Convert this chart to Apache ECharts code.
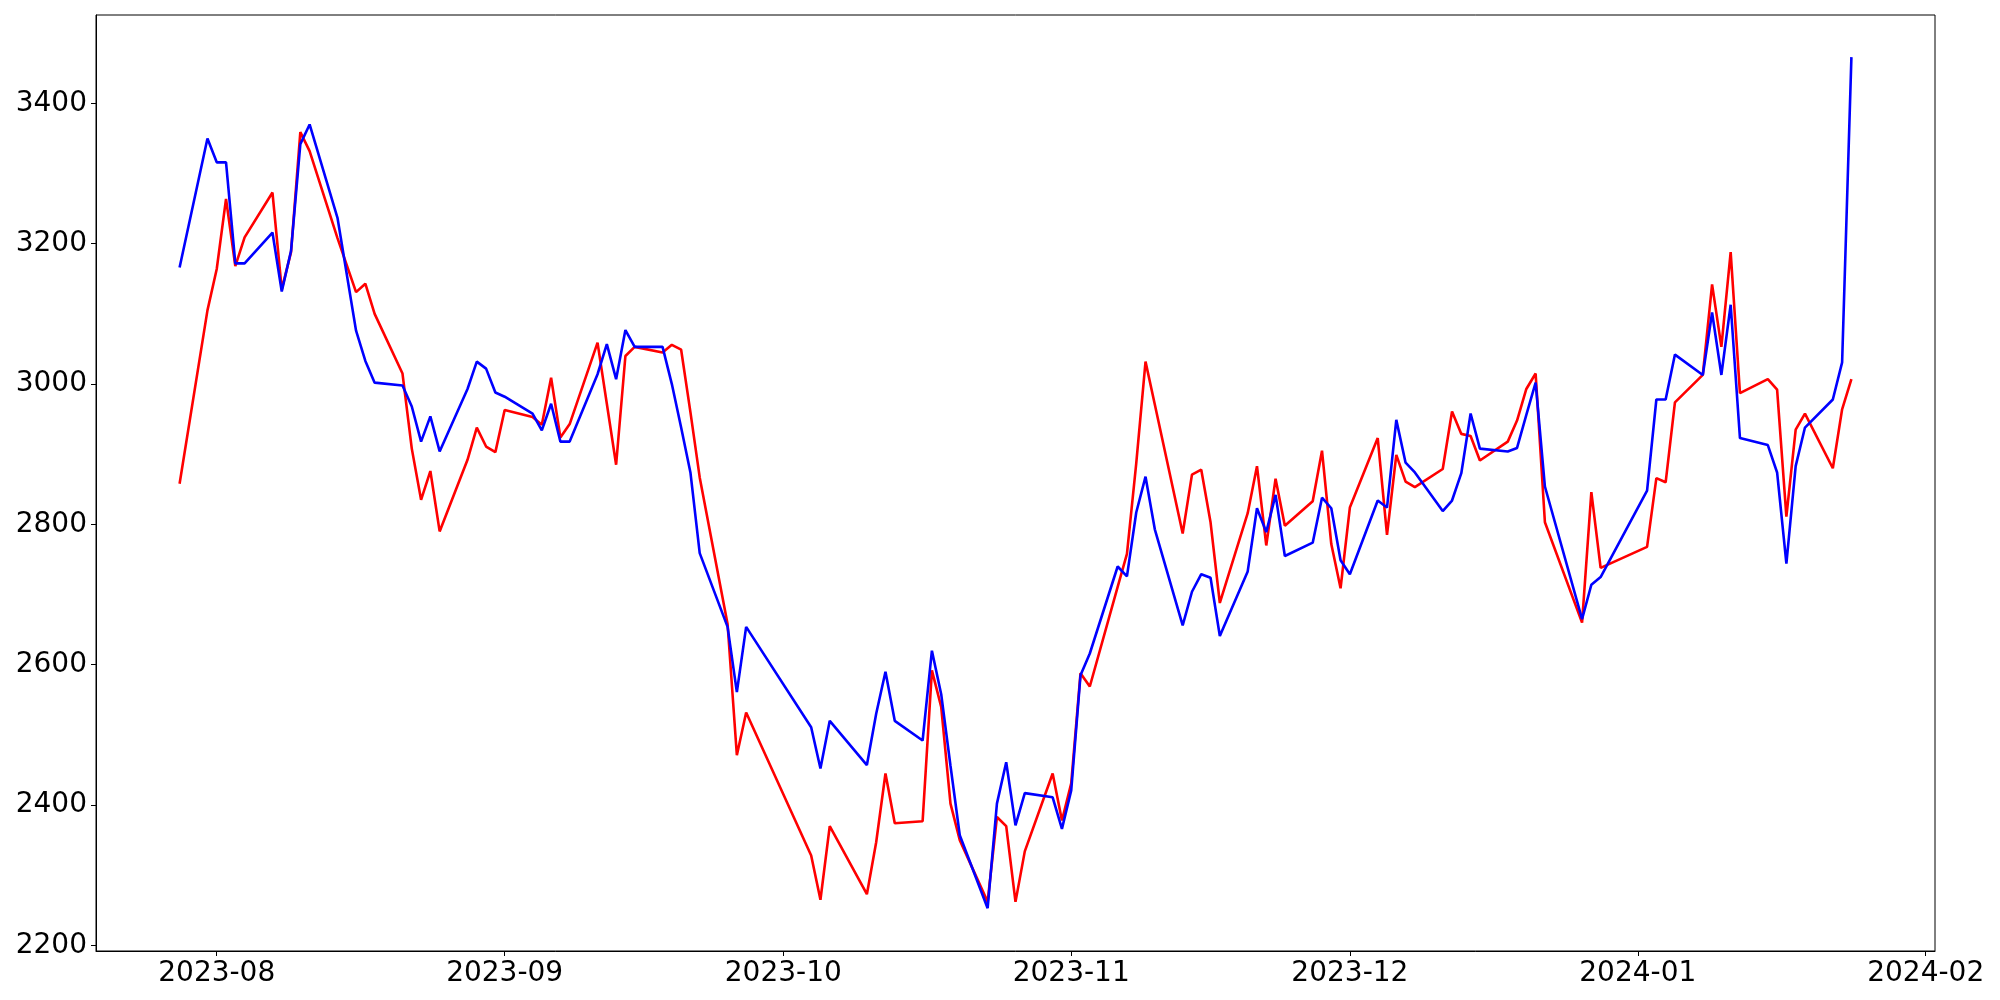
<!DOCTYPE html>
<html>
<head>
<meta charset="utf-8">
<title>chart</title>
<script src="https://cdn.jsdelivr.net/npm/echarts@6/dist/echarts.min.js"></script>
<style>
  html, body { margin: 0; padding: 0; background: #fff; }
  #main { width: 2000px; height: 1000px; }
</style>
</head>
<body>
<div id="main"></div>
<script>
// trading days (weekends and holidays missing)
const dates = [
  '2023-07-28', '2023-07-31',
  '2023-08-01', '2023-08-02', '2023-08-03', '2023-08-04', '2023-08-07', '2023-08-08', '2023-08-09', '2023-08-10',
  '2023-08-11', '2023-08-14', '2023-08-16', '2023-08-17', '2023-08-18', '2023-08-21', '2023-08-22', '2023-08-23',
  '2023-08-24', '2023-08-25', '2023-08-28', '2023-08-29', '2023-08-30', '2023-08-31',
  '2023-09-01', '2023-09-04', '2023-09-05', '2023-09-06', '2023-09-07', '2023-09-08', '2023-09-11', '2023-09-12',
  '2023-09-13', '2023-09-14', '2023-09-15', '2023-09-18', '2023-09-19', '2023-09-20', '2023-09-21', '2023-09-22',
  '2023-09-25', '2023-09-26', '2023-09-27',
  '2023-10-04', '2023-10-05', '2023-10-06', '2023-10-10', '2023-10-11', '2023-10-12', '2023-10-13', '2023-10-16',
  '2023-10-17', '2023-10-18', '2023-10-19', '2023-10-20', '2023-10-23', '2023-10-24', '2023-10-25', '2023-10-26',
  '2023-10-27', '2023-10-30', '2023-10-31',
  '2023-11-01', '2023-11-02', '2023-11-03', '2023-11-06', '2023-11-07', '2023-11-08', '2023-11-09', '2023-11-10',
  '2023-11-13', '2023-11-14', '2023-11-15', '2023-11-16', '2023-11-17', '2023-11-20', '2023-11-21', '2023-11-22',
  '2023-11-23', '2023-11-24', '2023-11-27', '2023-11-28', '2023-11-29', '2023-11-30',
  '2023-12-01', '2023-12-04', '2023-12-05', '2023-12-06', '2023-12-07', '2023-12-08', '2023-12-11', '2023-12-12',
  '2023-12-13', '2023-12-14', '2023-12-15', '2023-12-18', '2023-12-19', '2023-12-20', '2023-12-21', '2023-12-22',
  '2023-12-26', '2023-12-27', '2023-12-28',
  '2024-01-02', '2024-01-03', '2024-01-04', '2024-01-05', '2024-01-08', '2024-01-09', '2024-01-10', '2024-01-11',
  '2024-01-12', '2024-01-15', '2024-01-16', '2024-01-17', '2024-01-18', '2024-01-19', '2024-01-22', '2024-01-23',
  '2024-01-24'
]

const redValues = [
  2858, 3105,
  3164, 3264, 3168, 3209, 3273, 3135, 3188, 3359,
  3332, 3208, 3131, 3143, 3100, 3015, 2908, 2835,
  2876, 2790, 2892, 2938, 2911, 2903,
  2963, 2953, 2942, 3009, 2924, 2943, 3059, 2972,
  2885, 3040, 3053, 3045, 3056, 3049, 2960, 2867,
  2658, 2471, 2532,
  2328, 2265, 2370, 2273, 2347, 2445, 2374, 2377,
  2592, 2540, 2402, 2350, 2262, 2383, 2370, 2262,
  2334, 2445, 2378,
  2431, 2588, 2569, 2711, 2758, 2887, 3032, 2971,
  2787, 2871, 2878, 2803, 2688, 2816, 2883, 2770,
  2865, 2798, 2833, 2905, 2772, 2709,
  2824, 2923, 2785, 2899, 2861, 2853, 2879, 2961,
  2929, 2926, 2891, 2918, 2948, 2993, 3015, 2803,
  2660, 2846, 2738,
  2768, 2866, 2860, 2974, 3013, 3142, 3053, 3188,
  2987, 3007, 2992, 2811, 2935, 2958, 2880, 2964,
  3007
]

const blueValues = [
  3166, 3350,
  3316, 3316, 3172, 3172, 3216, 3132, 3190, 3342,
  3370, 3237, 3076, 3033, 3002, 2998, 2968, 2918,
  2954, 2904, 2993, 3032, 3022, 2988,
  2982, 2958, 2934, 2972, 2918, 2918, 3014, 3057,
  3007, 3077, 3053, 3053, 3000, 2938, 2874, 2759,
  2654, 2561, 2654,
  2511, 2452, 2520, 2457, 2530, 2590, 2520, 2492,
  2620, 2558, 2456, 2357, 2253, 2402, 2461, 2371,
  2417, 2411, 2366,
  2421, 2585, 2616, 2740, 2726, 2817, 2868, 2793,
  2656, 2704, 2729, 2724, 2641, 2733, 2823, 2789,
  2842, 2755, 2774, 2838, 2823, 2749,
  2729, 2834, 2824, 2949, 2888, 2874, 2819, 2834,
  2873, 2958, 2908, 2904, 2909, 2956, 3002, 2854,
  2665, 2714, 2725,
  2848, 2978, 2978, 3042, 3013, 3102, 3013, 3113,
  2923, 2913, 2874, 2744, 2883, 2938, 2978, 3031,
  3466
]

const toTime = (s) => {
  const [y, m, d] = s.split('-').map(Number)
  return Date.UTC(y, m - 1, d)
}
const pad = (n) => (n < 10 ? '0' + n : '' + n)

const chart = echarts.init(document.getElementById('main'), null, { renderer: 'canvas' })

chart.setOption({
  useUTC: true,
  animation: false,
  backgroundColor: '#ffffff',
  textStyle: { fontFamily: 'DejaVu Sans' },
  grid: {
    left: 96,
    right: 65,
    top: 15,
    bottom: 49,
    show: true,
    borderColor: '#000',
    borderWidth: 1,
    backgroundColor: 'transparent'
  },
  xAxis: {
    type: 'time',
    min: Date.UTC(2023, 6, 19),
    max: Date.UTC(2024, 1, 2),
    splitNumber: 7,
    minInterval: 28 * 86400000,
    maxInterval: 31 * 86400000,
    axisLine: { lineStyle: { color: '#000', width: 1 } },
    axisTick: { show: true, inside: false, length: 5, lineStyle: { color: '#000' } },
    splitLine: { show: false },
    axisLabel: {
      color: '#000',
      fontSize: 28,
      fontFamily: 'DejaVu Sans',
      margin: 9,
      showMinLabel: false,
      showMaxLabel: false,
      hideOverlap: false,
      formatter: (val) => {
        const d = new Date(val)
        return d.getUTCFullYear() + '-' + pad(d.getUTCMonth() + 1)
      }
    }
  },
  yAxis: {
    type: 'value',
    min: 2192,
    max: 3526,
    splitNumber: 7,
    minInterval: 200,
    maxInterval: 200,
    axisLine: { show: true, lineStyle: { color: '#000', width: 1 } },
    axisTick: { show: true, inside: false, length: 5, lineStyle: { color: '#000' } },
    splitLine: { show: false },
    axisLabel: {
      color: '#000',
      fontSize: 28,
      fontFamily: 'DejaVu Sans',
      margin: 9,
      showMinLabel: false,
      showMaxLabel: false,
      formatter: (val) => String(val)
    }
  },
  series: [
    {
      name: 'red',
      type: 'line',
      showSymbol: false,
      symbol: 'none',
      lineStyle: { color: '#ff0000', width: 2.6 },
      itemStyle: { color: '#ff0000' },
      data: dates.map((d, i) => [toTime(d), redValues[i]])
    },
    {
      name: 'blue',
      type: 'line',
      showSymbol: false,
      symbol: 'none',
      lineStyle: { color: '#0000ff', width: 2.6 },
      itemStyle: { color: '#0000ff' },
      data: dates.map((d, i) => [toTime(d), blueValues[i]])
    }
  ]
})
</script>
</body>
</html>
